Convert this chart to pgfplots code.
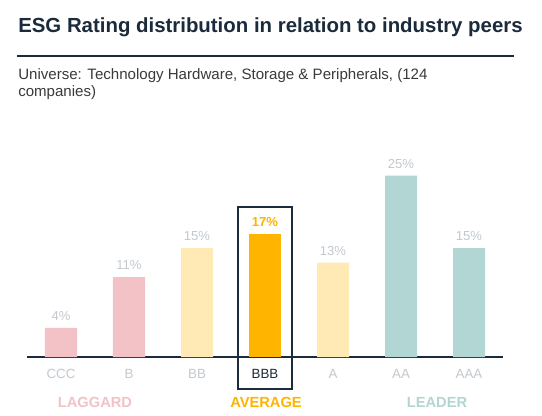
\documentclass[border=0pt]{standalone}
\usepackage{fontspec}
\setmainfont{Liberation Sans}
\usepackage{pgfplots}
\pgfplotsset{compat=1.18}
\definecolor{navy}{HTML}{1B2B3B}
\definecolor{subgray}{HTML}{3A3A3A}
\definecolor{lgray}{HTML}{C4C9CE}
\definecolor{lagpink}{HTML}{F2C2C6}
\definecolor{avgyel}{HTML}{FFE9B5}
\definecolor{avgorange}{HTML}{FFB400}
\definecolor{leadteal}{HTML}{B2D6D3}

\begin{document}
\begin{tikzpicture}
\fill[white] (0,0) rectangle (406.5pt,-312pt);
% title, rule, subtitle
\node[anchor=base west, inner sep=0, text=navy, font=\fontsize{15.3}{17}\selectfont\bfseries]
  at (13.5pt,-24.75pt) {ESG Rating distribution in relation to industry peers};
\draw[navy, line width=1.5pt] (12.75pt,-42pt) -- (385.5pt,-42pt);
\node[anchor=base west, inner sep=0, text=subgray, font=\fontsize{11.3}{13}\selectfont]
  at (13.5pt,-59.5pt) {Universe: Technology Hardware, Storage \& Peripherals, (124};
\node[anchor=base west, inner sep=0, text=subgray, font=\fontsize{11.3}{13}\selectfont]
  at (13.5pt,-72.75pt) {companies)};

\begin{axis}[
    at={(20.25pt,-267.75pt)}, anchor=south west,
    scale only axis, width=357pt, height=152.25pt,
    xmin=-0.5, xmax=6.5, ymin=0, ymax=28,
    axis x line*=bottom, axis y line=none,
    x axis line style={navy, line width=0.9pt},
    ybar, bar width=24pt, bar shift=0pt,
    xtick={0,...,6}, major tick length=0pt,
    xticklabels={CCC,B,BB,{\textcolor{navy}{BBB}},A,AA,AAA},
    xticklabel style={anchor=mid, yshift=-13.5pt, text=lgray, font=\fontsize{10}{12}\selectfont},
    /pgf/number format/assume math mode=true,
    nodes near coords={\pgfmathprintnumber{\pgfplotspointmeta}\%},
    nodes near coords style={anchor=base, inner sep=0, yshift=5.8pt, text=lgray, font=\fontsize{9.8}{11}\selectfont},
    clip=false,
]
\addplot[fill=lagpink, draw=none] coordinates {(0,4) (1,11)};
\addplot[fill=avgyel, draw=none] coordinates {(2,15) (4,13)};
\addplot[fill=avgorange, draw=none,
    nodes near coords style={text=avgorange, font=\fontsize{9.8}{11}\selectfont\bfseries}] coordinates {(3,17)};
\addplot[fill=leadteal, draw=none] coordinates {(5,25) (6,15)};
\end{axis}

% highlight box round the average bar
\draw[navy, line width=1.1pt] (178.5pt,-155.25pt) rectangle (219pt,-291.75pt);

% group labels
\node[text=lagpink, font=\fontsize{11}{13}\selectfont\bfseries] at (71.25pt,-301.5pt) {LAGGARD};
\node[text=avgorange, font=\fontsize{11}{13}\selectfont\bfseries] at (199.5pt,-301.5pt) {AVERAGE};
\node[text=leadteal, font=\fontsize{11}{13}\selectfont\bfseries] at (327.75pt,-301.5pt) {LEADER};
\end{tikzpicture}
\end{document}
